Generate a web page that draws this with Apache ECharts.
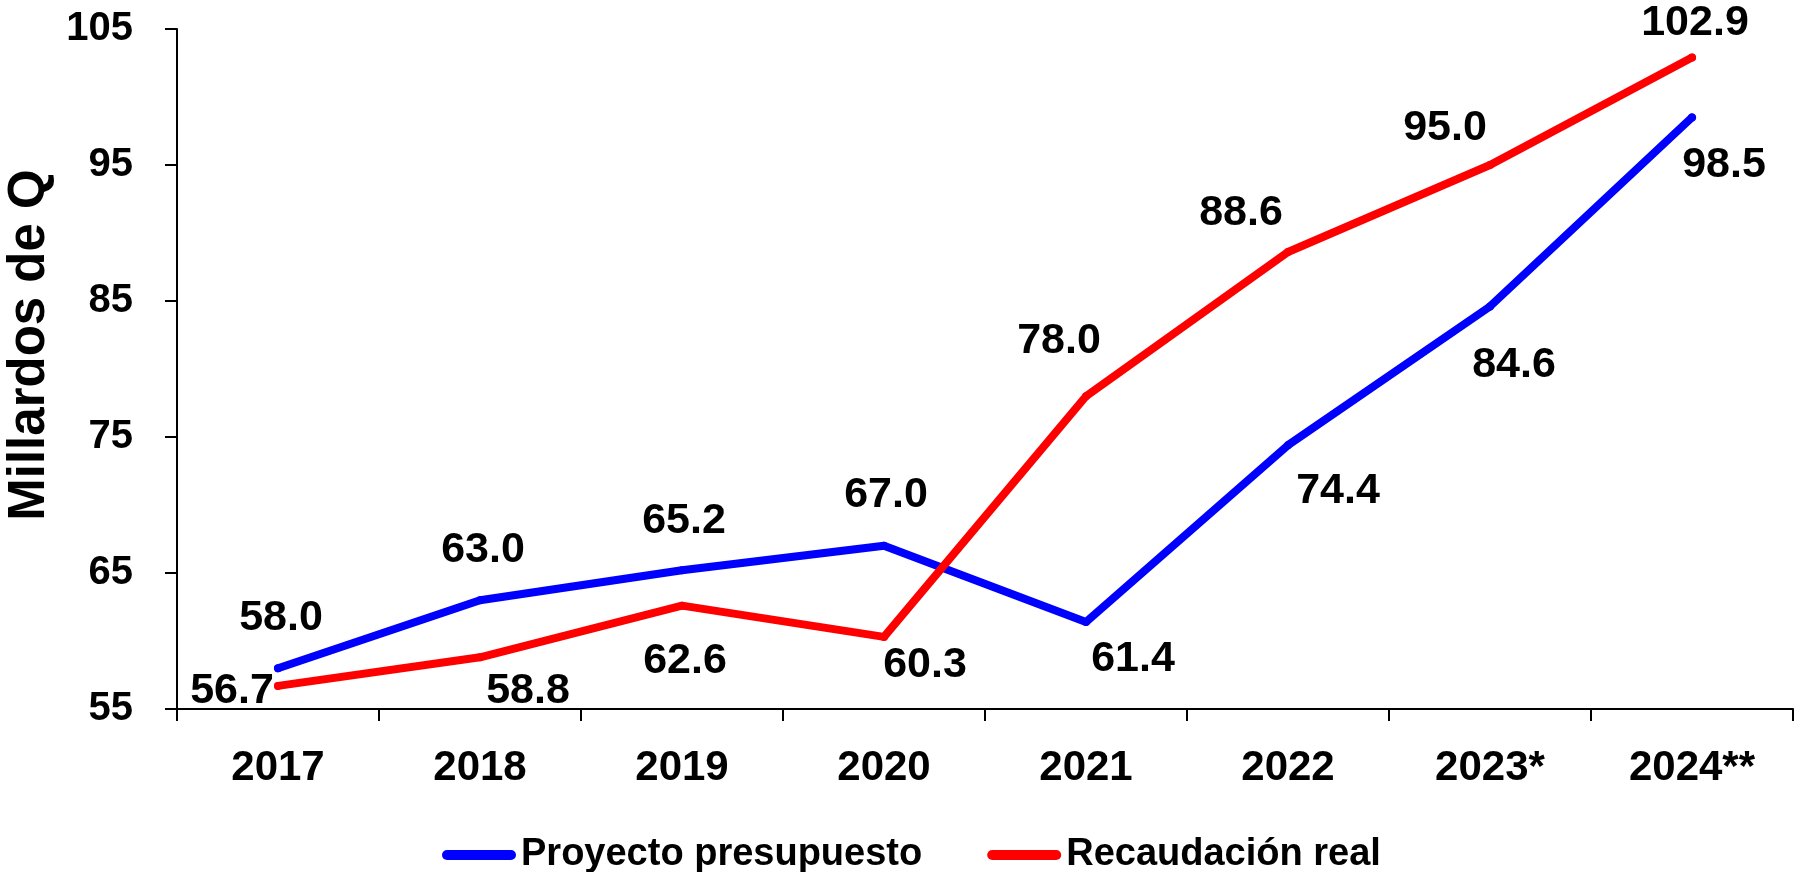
<!DOCTYPE html>
<html><head><meta charset="utf-8">
<script src="https://cdn.jsdelivr.net/npm/echarts@6/dist/echarts.min.js"></script>
<style>html,body{margin:0;padding:0;background:#fff}#c{width:1796px;height:872px}</style>
</head><body><div id="c"></div>
<script>
const categories = ['2017', '2018', '2019', '2020', '2021', '2022', '2023*', '2024**'];
const proyectoPresupuesto = [58.0, 63.0, 65.2, 67.0, 61.4, 74.4, 84.6, 98.5];
const recaudacionReal = [56.7, 58.8, 62.6, 60.3, 78.0, 88.6, 95.0, 102.9];
const yMin = 55, yMax = 105, yInterval = 10;
const seriesNames = ['Proyecto presupuesto', 'Recaudación real'];

// label placement (style only)
const proyectoLabelOffsets = [[3,-50],[3,-50],[2,-49],[2,-51],[47,37],[50,46],[24,59],[32,48]];
const recaudacionLabelOffsets = [[-46,5],[48,34],[3,56],[41,28],[-27,-55],[-47,-39],[-45,-37],[3,-34]];

const FONT = '"Liberation Sans", Arial, sans-serif';
const chart = echarts.init(document.getElementById('c'), null, {renderer: 'canvas'});

function makeData(values, offsets) {
  return values.map((v, i) => ({ value: v, label: { offset: offsets[i] } }));
}
function lineSeries(name, values, offsets, color) {
  return {
    name: name, type: 'line', data: makeData(values, offsets),
    symbol: 'circle', symbolSize: 8, showSymbol: true,
    itemStyle: { color: color },
    lineStyle: { color: color, width: 8, cap: 'round', join: 'round' },
    label: {
      show: true, position: 'inside', align: 'center', verticalAlign: 'middle',
      formatter: p => Number(p.value).toFixed(1),
      color: '#000', fontSize: 43, fontWeight: 'bold', fontFamily: FONT
    },
    emphasis: { disabled: true },
    animation: false
  };
}

chart.setOption({
  animation: false,
  backgroundColor: '#fff',
  grid: { left: 177, right: 3, top: 29, bottom: 163, containLabel: false, outerBoundsMode: 'none' },
  legend: {
    left: 437, top: 831, itemWidth: 74, itemHeight: 10, itemGap: 65, selectedMode: false,
    icon: 'path://M5,0H69A5,5,0,0,1,69,10H5A5,5,0,0,1,5,0Z',
    textStyle: { fontSize: 38, fontWeight: 'bold', color: '#000', fontFamily: FONT },
    data: seriesNames
  },
  xAxis: {
    type: 'category', data: categories, boundaryGap: true,
    axisLine: { show: true, lineStyle: { color: '#000', width: 2 } },
    axisTick: { show: true, length: 12, lineStyle: { color: '#000', width: 2 } },
    axisLabel: { fontSize: 42, fontWeight: 'bold', color: '#000', fontFamily: FONT, margin: 38 },
    splitLine: { show: false }
  },
  yAxis: {
    type: 'value', min: yMin, max: yMax, interval: yInterval,
    name: 'Millardos de Q', nameLocation: 'middle', nameGap: 119,
    nameTextStyle: { fontSize: 51, fontWeight: 'bold', color: '#000', fontFamily: FONT, padding: [0, 0, 0, 48] },
    axisLine: { show: true, lineStyle: { color: '#000', width: 2 } },
    axisTick: { show: true, length: 12, lineStyle: { color: '#000', width: 2 } },
    axisLabel: { fontSize: 40, fontWeight: 'bold', color: '#000', fontFamily: FONT, margin: 44 },
    splitLine: { show: false }
  },
  series: [
    lineSeries(seriesNames[0], proyectoPresupuesto, proyectoLabelOffsets, '#0000FF'),
    lineSeries(seriesNames[1], recaudacionReal, recaudacionLabelOffsets, '#FF0000')
  ]
});
</script></body></html>
